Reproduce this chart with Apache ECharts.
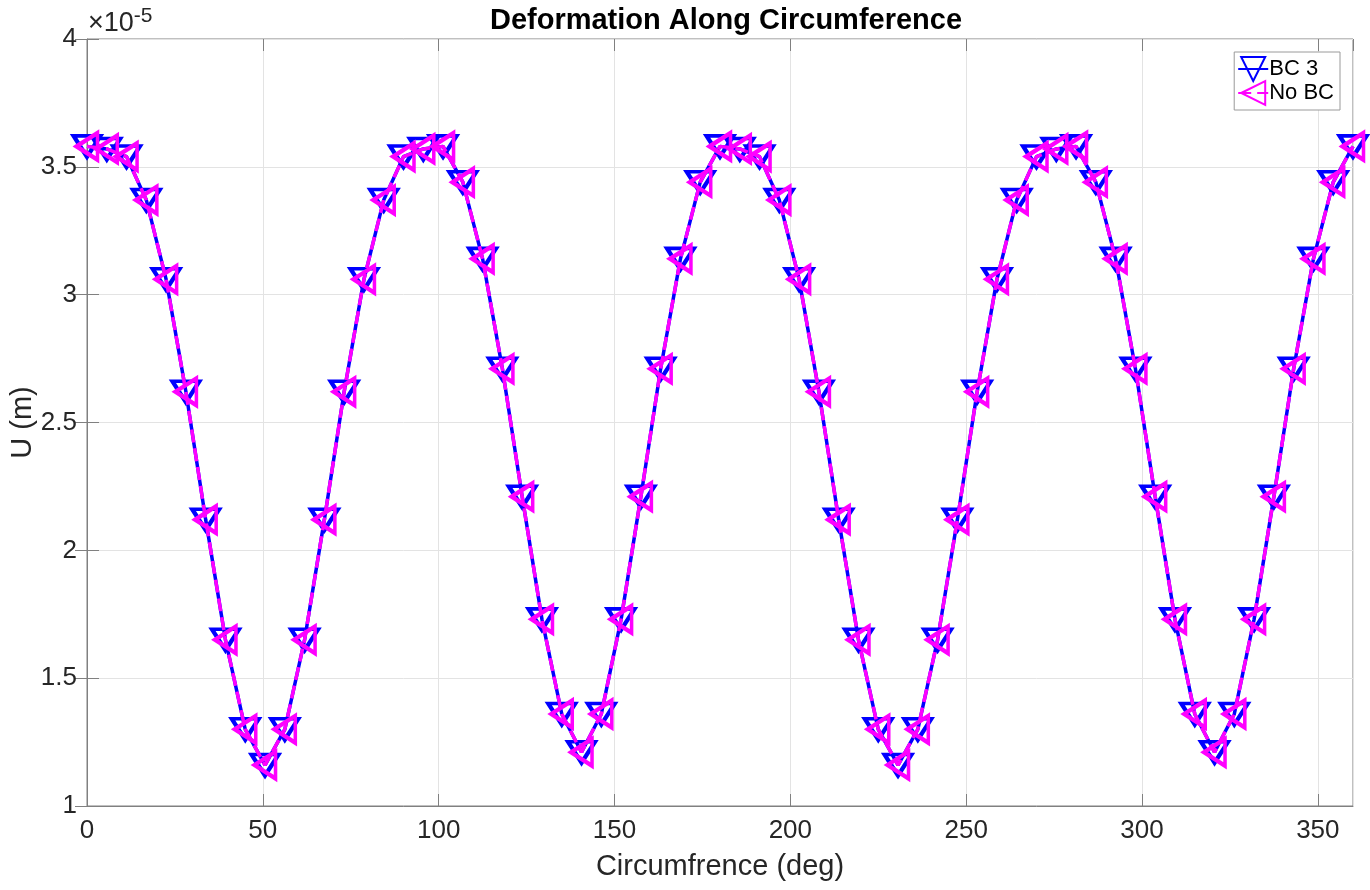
<!DOCTYPE html>
<html>
<head>
<meta charset="utf-8">
<script src="https://cdn.jsdelivr.net/npm/echarts@6/dist/echarts.min.js"></script>
<style>
  html, body { margin: 0; padding: 0; background: #fff; }
  #chart { width: 1370px; height: 890px; }
</style>
</head>
<body>
<div id="chart"></div>
<script>
'use strict';

// circumferential position (deg)
const angles = [
    0, 5.625, 11.25, 16.875, 22.5, 28.125, 33.75, 39.375, 45, 50.625,
    56.25, 61.875, 67.5, 73.125, 78.75, 84.375, 90, 95.625, 101.25, 106.875,
    112.5, 118.125, 123.75, 129.375, 135, 140.625, 146.25, 151.875, 157.5, 163.125,
    168.75, 174.375, 180, 185.625, 191.25, 196.875, 202.5, 208.125, 213.75, 219.375,
    225, 230.625, 236.25, 241.875, 247.5, 253.125, 258.75, 264.375, 270, 275.625,
    281.25, 286.875, 292.5, 298.125, 303.75, 309.375, 315, 320.625, 326.25, 331.875,
    337.5, 343.125, 348.75, 354.375, 360
];

// U in units of 1e-5 m
const bc3 = [
    3.58, 3.57, 3.54, 3.37, 3.06, 2.62, 2.12, 1.65, 1.30, 1.16,
    1.30, 1.65, 2.12, 2.62, 3.06, 3.37, 3.54, 3.57, 3.58, 3.44,
    3.14, 2.71, 2.21, 1.73, 1.36, 1.21, 1.36, 1.73, 2.21, 2.71,
    3.14, 3.44, 3.58, 3.57, 3.54, 3.37, 3.06, 2.62, 2.12, 1.65,
    1.30, 1.16, 1.30, 1.65, 2.12, 2.62, 3.06, 3.37, 3.54, 3.57,
    3.58, 3.44, 3.14, 2.71, 2.21, 1.73, 1.36, 1.21, 1.36, 1.73,
    2.21, 2.71, 3.14, 3.44, 3.58
];
const noBc = [
    3.58, 3.57, 3.54, 3.37, 3.06, 2.62, 2.12, 1.65, 1.30, 1.16,
    1.30, 1.65, 2.12, 2.62, 3.06, 3.37, 3.54, 3.57, 3.58, 3.44,
    3.14, 2.71, 2.21, 1.73, 1.36, 1.21, 1.36, 1.73, 2.21, 2.71,
    3.14, 3.44, 3.58, 3.57, 3.54, 3.37, 3.06, 2.62, 2.12, 1.65,
    1.30, 1.16, 1.30, 1.65, 2.12, 2.62, 3.06, 3.37, 3.54, 3.57,
    3.58, 3.44, 3.14, 2.71, 2.21, 1.73, 1.36, 1.21, 1.36, 1.73,
    2.21, 2.71, 3.14, 3.44, 3.58
];

const FONT = 'Liberation Sans, Arial, Helvetica, sans-serif';
const AXIS_COLOR = '#808080';
const TEXT_COLOR = '#262626';

const pairs = (xs, ys) => xs.map((x, i) => [x, ys[i]]);

const hiddenAxis = (extra) => Object.assign({
    type: 'value',
    axisLine: {show: false},
    axisLabel: {show: false},
    splitLine: {show: false},
    axisTick: {show: true, inside: true, length: 12, lineStyle: {color: AXIS_COLOR}},
}, extra);

const chart = echarts.init(document.getElementById('chart'));

chart.setOption({
    animation: false,
    backgroundColor: '#fff',
    title: {
        text: 'Deformation Along Circumference',
        left: 721,
        textAlign: 'center',
        top: 1,
        textStyle: {fontFamily: FONT, fontSize: 29, fontWeight: 'bold', color: '#000'},
    },
    graphic: [{
        type: 'text',
        left: 88,
        top: 6,
        style: {
            text: '×10{s|-5}',
            fontFamily: FONT,
            fontSize: 27,
            fill: TEXT_COLOR,
            rich: {s: {fontFamily: FONT, fontSize: 21, verticalAlign: 'top', padding: [0, 0, 14, 0]}},
        },
    }],
    legend: {
        orient: 'vertical',
        right: 30,
        top: 52,
        padding: [4, 6, 4, 3],
        itemGap: -2,
        itemWidth: 30,
        itemHeight: 30,
        backgroundColor: '#fff',
        borderColor: '#9a9a9a',
        borderWidth: 1,
        borderRadius: 0,
        textStyle: {fontFamily: FONT, fontSize: 22, color: '#000', padding: [0, 0, 0, -4]},
        data: ['BC 3', 'No BC'],
    },
    grid: {
        left: 87, right: 17, top: 39, bottom: 84,
        outerBoundsMode: 'none',
        containLabel: false,
        show: true,
        borderColor: AXIS_COLOR,
        borderWidth: 1,
        backgroundColor: '#fff',
    },
    xAxis: [{
        type: 'value',
        min: 0, max: 360, interval: 50,
        name: 'Circumfrence (deg)',
        nameLocation: 'middle',
        nameGap: 46,
        nameMoveOverlap: false,
        nameTextStyle: {fontFamily: FONT, fontSize: 29, color: TEXT_COLOR},
        axisLine: {show: true, lineStyle: {color: AXIS_COLOR}},
        axisTick: {show: true, inside: true, length: 12, lineStyle: {color: AXIS_COLOR}},
        axisLabel: {fontFamily: FONT, fontSize: 26, color: TEXT_COLOR, margin: 12, showMaxLabel: false},
        splitLine: {show: true, lineStyle: {color: '#e3e3e3'}},
    }, hiddenAxis({position: 'top', min: 0, max: 360, interval: 50})],
    yAxis: [{
        type: 'value',
        min: 1, max: 4, interval: 0.5,
        name: 'U (m)',
        nameLocation: 'middle',
        nameGap: 50,
        nameRotate: 90,
        nameMoveOverlap: false,
        nameTextStyle: {fontFamily: FONT, fontSize: 29, color: TEXT_COLOR},
        axisLine: {show: true, lineStyle: {color: AXIS_COLOR}},
        axisTick: {show: true, inside: true, length: 12, lineStyle: {color: AXIS_COLOR}},
        axisLabel: {fontFamily: FONT, fontSize: 26, color: TEXT_COLOR, margin: 10},
        splitLine: {show: true, lineStyle: {color: '#e3e3e3'}},
    }, hiddenAxis({position: 'right', min: 1, max: 4, interval: 0.5})],
    series: [{
        name: 'BC 3',
        type: 'line',
        data: pairs(angles, bc3),
        symbol: 'triangle',
        symbolRotate: 180,
        symbolSize: [27, 21],
        showAllSymbol: true,
        lineStyle: {color: '#0000ff', width: 3.5, type: 'solid'},
        itemStyle: {color: 'rgba(255,255,255,0)', borderColor: '#0000ff', borderWidth: 4},
        z: 2,
    }, {
        name: 'No BC',
        type: 'line',
        data: pairs(angles, noBc),
        symbol: 'triangle',
        symbolRotate: 90,
        symbolSize: [27, 21],
        showAllSymbol: true,
        lineStyle: {color: '#ff00ff', width: 3.5, type: [13, 6]},
        itemStyle: {color: 'rgba(255,255,255,0)', borderColor: '#ff00ff', borderWidth: 4},
        z: 3,
    }],
});
</script>
</body>
</html>
